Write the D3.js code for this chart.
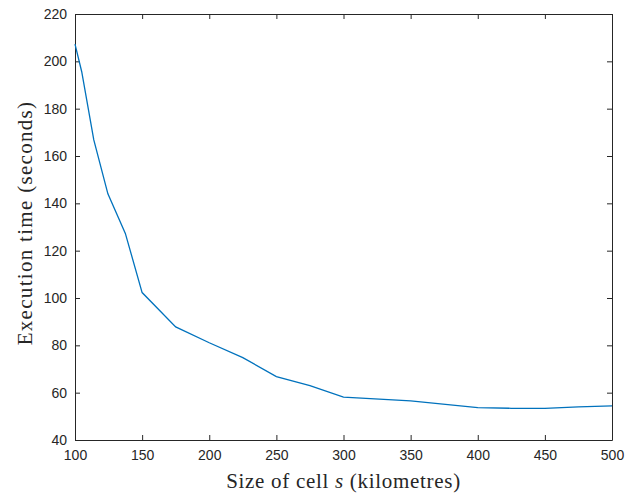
<!DOCTYPE html>
<html>
<head>
<meta charset="utf-8">
<script src="https://cdn.jsdelivr.net/npm/d3@7"></script>
<style>
  body { margin: 0; background: #fff; }
  .tick text { font-family: "Liberation Sans", Arial, sans-serif; font-size: 14px; fill: #262626; }
  .axis-label { font-family: "Liberation Serif", "DejaVu Serif", serif; font-size: 21px; fill: #262626; }
</style>
</head>
<body>
<div id="chart"></div>
<script>
// cell size (km) and execution time (s)
const cellSize = [100, 105, 114, 124.5, 137.5, 150, 175, 200, 225, 250, 275, 300, 350, 400, 425, 450, 475, 500];
const execTime = [207.3, 195.6, 166.8, 144, 127.3, 102.3, 87.8, 81.1, 74.8, 66.8, 63, 58.1, 56.5, 53.7, 53.4, 53.4, 54, 54.4];
const xTicks = [100, 150, 200, 250, 300, 350, 400, 450, 500];
const yTicks = [40, 60, 80, 100, 120, 140, 160, 180, 200, 220];

const margin = { top: 14, right: 18, bottom: 59, left: 75 };
const W = 630, H = 499;
const width = W - margin.left - margin.right;
const height = H - margin.top - margin.bottom;

const svg = d3.select("#chart")
  .append("svg")
  .attr("width", W)
  .attr("height", H)
  .append("g")
  .attr("transform", "translate(" + margin.left + "," + margin.top + ")");

const x = d3.scaleLinear().domain([100, 500]).range([0, width]);
const y = d3.scaleLinear().domain([40, 220]).range([height, 0]);

// box with inward ticks on every side
const axisColor = "#262626";
function style(g) {
  g.select(".domain").attr("stroke", axisColor).attr("stroke-width", 1);
  g.selectAll(".tick line").attr("stroke", axisColor);
}

svg.append("g")
  .attr("transform", "translate(0," + height + ")")
  .call(d3.axisBottom(x).tickValues(xTicks).tickSizeInner(-5).tickSizeOuter(0).tickPadding(10))
  .call(style);

svg.append("g")
  .call(d3.axisTop(x).tickValues(xTicks).tickSizeInner(-5).tickSizeOuter(0).tickFormat(""))
  .call(style);

svg.append("g")
  .call(d3.axisLeft(y).tickValues(yTicks).tickSizeInner(-5).tickSizeOuter(0).tickPadding(8))
  .call(style);

svg.append("g")
  .attr("transform", "translate(" + width + ",0)")
  .call(d3.axisRight(y).tickValues(yTicks).tickSizeInner(-5).tickSizeOuter(0).tickFormat(""))
  .call(style);

// the curve
const pts = cellSize.map((s, i) => [s, execTime[i]]);
svg.append("path")
  .datum(pts)
  .attr("fill", "none")
  .attr("stroke", "#0072BD")
  .attr("stroke-width", 1.3)
  .attr("d", d3.line().x(d => x(d[0])).y(d => y(d[1])));

// axis labels
const xl = svg.append("text")
  .attr("class", "axis-label")
  .attr("x", width / 2)
  .attr("y", height + 48)
  .attr("letter-spacing", "0.7px")
  .attr("text-anchor", "middle");
xl.append("tspan").text("Size of cell ");
xl.append("tspan").attr("font-style", "italic").text("s");
xl.append("tspan").text(" (kilometres)");

svg.append("text")
  .attr("class", "axis-label")
  .attr("transform", "rotate(-90)")
  .attr("x", -(height / 2) + 4)
  .attr("y", -43)
  .attr("letter-spacing", "1.3px")
  .attr("text-anchor", "middle")
  .text("Execution time (seconds)");
</script>
</body>
</html>
